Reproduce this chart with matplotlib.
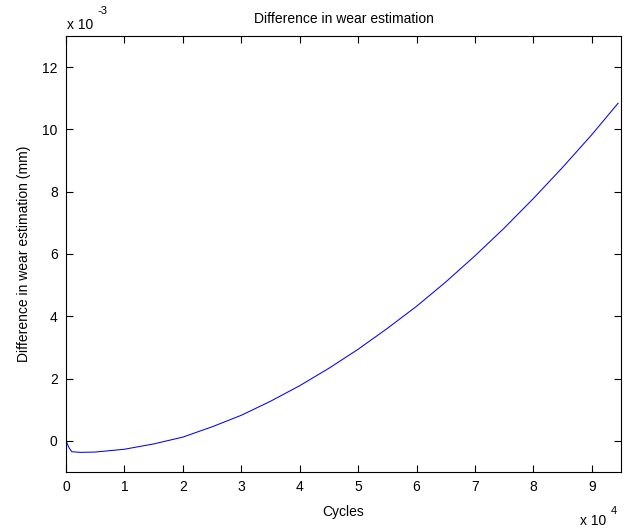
import matplotlib
matplotlib.use("Agg")
import matplotlib.pyplot as plt
from matplotlib.ticker import FuncFormatter

plt.rcParams["font.family"] = ["Liberation Sans", "DejaVu Sans"]
plt.rcParams["font.size"] = 10

# cycles and difference in estimated wear (mm)
cycles = [0, 500, 1000, 2500, 5000, 10000, 15000, 20000, 25000, 30000,
          35000, 40000, 45000, 50000, 55000, 60000, 65000, 70000, 75000,
          80000, 85000, 90000, 94500]
wear_diff = [0.0, -0.22e-3, -0.35e-3, -0.37e-3, -0.36e-3, -0.27e-3, -0.10e-3,
             0.12e-3, 0.45e-3, 0.82e-3, 1.27e-3, 1.77e-3, 2.33e-3, 2.94e-3,
             3.61e-3, 4.32e-3, 5.10e-3, 5.94e-3, 6.83e-3, 7.78e-3, 8.78e-3,
             9.83e-3, 10.84e-3]

x_ticks = [0, 1, 2, 3, 4, 5, 6, 7, 8, 9]
y_ticks = [0, 2, 4, 6, 8, 10, 12]

fig = plt.figure(figsize=(6.3, 5.29), dpi=100)
ax = fig.add_axes([0.1048, 0.1078, 0.8809, 0.8242])

ax.plot(cycles, wear_diff, color="#0000ff", linewidth=0.75)

ax.set_xlim(0, 95000)
ax.set_ylim(-1e-3, 13e-3)
ax.set_xticks([t * 1e4 for t in x_ticks])
ax.set_yticks([t * 1e-3 for t in y_ticks])
ax.xaxis.set_major_formatter(FuncFormatter(lambda v, p: "%g" % round(v / 1e4, 6)))
ax.yaxis.set_major_formatter(FuncFormatter(lambda v, p: "%g" % round(v / 1e-3, 6)))

ax.tick_params(direction="in", length=5, width=0.8, top=True, right=True,
               labelsize=10, pad=6, colors="black")
for s in ax.spines.values():
    s.set_linewidth(0.8)

ax.set_title("Difference in wear estimation", fontsize=10, pad=9)
ax.set_xlabel("Cycles", fontsize=10, labelpad=8)
ax.set_ylabel("Difference in wear estimation (mm)", fontsize=10, labelpad=8)

# exponent labels in the MATLAB style
fig.text(67 / 630, 1 - 29 / 529, "x 10", fontsize=10, ha="left", va="baseline")
fig.text(98 / 630, 1 - 14 / 529, "-3", fontsize=8, ha="left", va="baseline")
fig.text(580 / 630, 1 - 525 / 529, "x 10", fontsize=10, ha="left", va="baseline")
fig.text(611 / 630, 1 - 514 / 529, "4", fontsize=8, ha="left", va="baseline")

fig.savefig("out.png", dpi=100)
